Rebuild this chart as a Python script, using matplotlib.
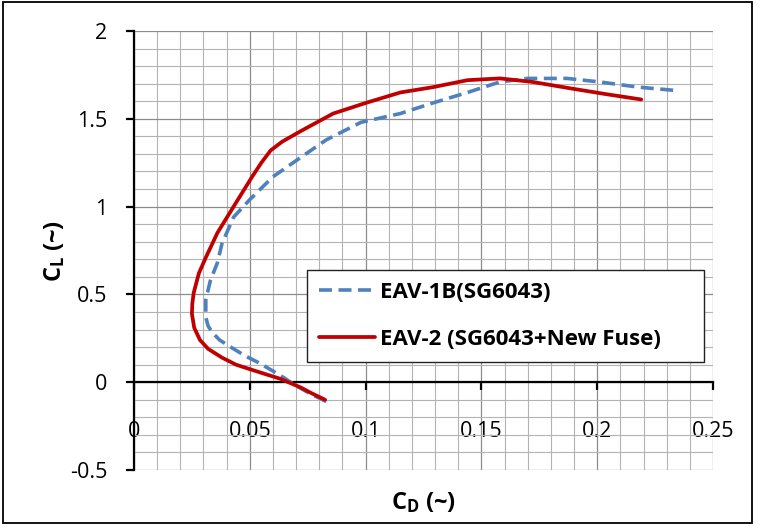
import numpy as np
import matplotlib
matplotlib.use('Agg')
from matplotlib import pyplot as plt
from matplotlib.patches import Rectangle

plt.rcParams['font.family'] = ['Open Sans', 'DejaVu Sans']
plt.rcParams['mathtext.fontset'] = 'custom'
plt.rcParams['mathtext.bf'] = 'Open Sans:bold'
plt.rcParams['mathtext.rm'] = 'Open Sans:bold'

# EAV-1B (SG6043) polar
cd_1b = [0.083, 0.076, 0.070, 0.063, 0.054, 0.048, 0.043, 0.037, 0.034, 0.032,
         0.031, 0.031, 0.033, 0.036, 0.038, 0.043, 0.050, 0.060, 0.072, 0.083,
         0.098, 0.115, 0.129, 0.144, 0.158, 0.170, 0.187, 0.201, 0.218, 0.235]
cl_1b = [-0.11, -0.065, -0.02, 0.04, 0.11, 0.15, 0.19, 0.24, 0.28, 0.32,
         0.37, 0.47, 0.58, 0.68, 0.79, 0.94, 1.04, 1.17, 1.28, 1.38,
         1.48, 1.53, 1.59, 1.65, 1.71, 1.73, 1.73, 1.71, 1.68, 1.66]

# EAV-2 (SG6043 + new fuse)
cd_2 = [0.0825, 0.077, 0.072, 0.063, 0.057, 0.051, 0.044, 0.038, 0.032, 0.0285,
        0.026, 0.025, 0.0252, 0.0258, 0.028, 0.031, 0.036, 0.043, 0.051, 0.055,
        0.059, 0.064, 0.072, 0.079, 0.086, 0.100, 0.115, 0.129, 0.144, 0.158,
        0.172, 0.190, 0.204, 0.219]
cl_2 = [-0.10, -0.065, -0.03, 0.02, 0.045, 0.07, 0.10, 0.14, 0.19, 0.24,
        0.31, 0.39, 0.45, 0.51, 0.62, 0.71, 0.85, 1.0, 1.17, 1.25,
        1.32, 1.37, 1.43, 1.48, 1.53, 1.59, 1.65, 1.68, 1.72, 1.73,
        1.71, 1.67, 1.64, 1.61]

labels = ['EAV-1B(SG6043)', 'EAV-2 (SG6043+New Fuse)']
xticks = [0, 0.05, 0.1, 0.15, 0.2, 0.25]
xticklabels = ['0', '0.05', '0.1', '0.15', '0.2', '0.25']
yticks = [-0.5, 0, 0.5, 1, 1.5, 2]
yticklabels = ['-0.5', '0', '0.5', '1', '1.5', '2']

fig = plt.figure(figsize=(7.6, 5.28), dpi=100)
ax = fig.add_axes([134/760, 58/528, 579/760, 439/528])

# outer chart border
fig.patches.append(Rectangle((3/760, 5/528), 749/760, 521/528, transform=fig.transFigure,
                             fill=False, edgecolor='black', linewidth=1.3))

ax.plot(cd_1b, cl_1b, color='#4F81BD', lw=2.6, linestyle=(0, (3.6, 1.8)),
        dash_capstyle='butt', dash_joinstyle='round', label=labels[0], zorder=3)
ax.plot(cd_2, cl_2, color='#C00000', lw=2.7, solid_joinstyle='round',
        solid_capstyle='round', label=labels[1], zorder=4)

ax.set_xlim(0, 0.25); ax.set_ylim(-0.5, 2)
ax.set_xticks(xticks); ax.set_xticklabels(xticklabels)
ax.set_yticks(yticks); ax.set_yticklabels(yticklabels)
ax.set_xticks(np.arange(0, 0.2501, 0.01), minor=True)
ax.set_yticks(np.arange(-0.5, 2.001, 0.1), minor=True)
ax.grid(which='major', color='#8c8c8c', lw=0.9)
ax.grid(which='minor', color='#b4b4b4', lw=0.8)
ax.set_axisbelow(True)

for s in ['top', 'right']:
    ax.spines[s].set_visible(False)
ax.spines['bottom'].set_position(('data', 0))
ax.spines['bottom'].set_linewidth(1.6)
ax.spines['left'].set_linewidth(1.6)
ax.tick_params(which='minor', length=0)
ax.tick_params(axis='y', which='major', direction='out', length=6, width=1.6,
               pad=13, labelsize=15.5, colors='black')
ax.tick_params(axis='x', which='major', direction='out', length=6, width=1.6,
               pad=22, labelsize=15.5, colors='black')

ax.set_xlabel(r'$\mathbf{C_D}$ (~)', fontsize=17, fontweight='bold')
ax.set_ylabel(r'$\mathbf{C_L}$ (~)', fontsize=17, fontweight='bold')
ax.xaxis.set_label_coords(0.5, -0.045)
ax.yaxis.set_label_coords(-0.115, 0.5)

leg = ax.legend(loc='lower left', bbox_to_anchor=(0.299, 0.246, 0.685, 0.205),
                mode='expand', fancybox=False,
                edgecolor='#222222', framealpha=1, handlelength=2.5,
                handletextpad=0.25, labelspacing=1.15, borderpad=0.55,
                borderaxespad=0, prop={'weight': 'bold', 'size': 16})
leg.get_frame().set_linewidth(1.0)

plt.savefig('out.png', dpi=100)
